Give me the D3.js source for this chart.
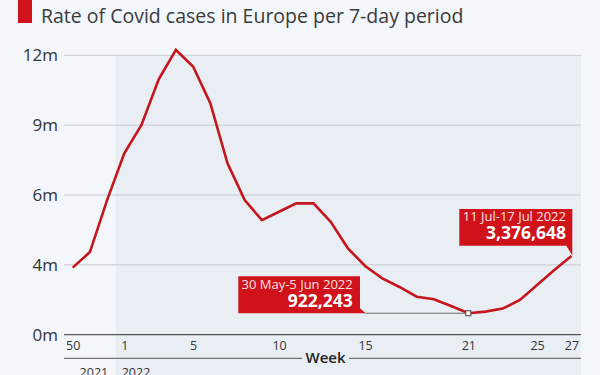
<!DOCTYPE html>
<html>
<head>
<meta charset="utf-8">
<script src="https://cdn.jsdelivr.net/npm/d3@7"></script>
<style>
  html, body { margin: 0; padding: 0; background: #f3f6fa; }
  svg { display: block; font-family: "Open Sans", "Noto Sans", sans-serif; }
</style>
</head>
<body>
<svg id="chart" width="600" height="375"></svg>
<script>
const title = "Rate of Covid cases in Europe per 7-day period";
const weeks = ["50","51","52","1","2","3","4","5","6","7","8","9","10","11","12","13","14","15","16","17","18","19","20","21","22","23","24","25","26","27"];
const cases = [2880000,3550000,5780000,7790000,9010000,10970000,12230000,11520000,9940000,7360000,5780000,4920000,5280000,5640000,5640000,4850000,3710000,2950000,2420000,2050000,1630000,1520000,1230000,922243,990000,1120000,1490000,2130000,2780000,3376648];
const tickWeeks = ["50","1","5","10","15","21","25","27"];
const yTicks = [0, 3e6, 6e6, 9e6, 12e6];
const yTickLabels = ["0m","4m","6m","9m","12m"];
const years = ["2021","2022"];
const annoWeeks = ["21","27"];
const annoDates = ["30 May-5 Jun 2022","11 Jul-17 Jul 2022"];
const annoValues = ["922,243","3,376,648"];

const svg = d3.select("#chart");
const red = "#d0121b";
const lineRed = "#c4161c";

const x = d3.scalePoint().domain(weeks).range([72.7, 571.5]);
const y = d3.scaleLinear().domain([0, 12e6]).range([334.7, 55.3]);
const gridLeft = 64, gridRight = 581;

// shaded 2022 band
const shadeX = (x("52") + x("1")) / 2;
svg.append("rect").attr("x", shadeX).attr("y", y(12e6)).attr("width", gridRight - shadeX).attr("height", 375 - y(12e6)).attr("fill", "#e9edf4");

// title
svg.append("rect").attr("x", 18).attr("y", 0).attr("width", 14).attr("height", 23).attr("fill", red);
svg.append("text").attr("x", 41).attr("y", 23).attr("font-size", 19.5).attr("fill", "#3a3a3a").text(title);

// grid + y labels
const yAxis = svg.append("g");
yTicks.forEach((t, i) => {
  if (t > 0) {
    yAxis.append("line").attr("x1", gridLeft).attr("x2", gridRight).attr("y1", y(t)).attr("y2", y(t)).attr("stroke", "#c6cad1").attr("stroke-width", 1);
  }
  yAxis.append("text").attr("x", 58).attr("y", y(t)).attr("dy", "0.35em").attr("text-anchor", "end").attr("font-size", 17).attr("fill", "#333").text(yTickLabels[i]);
});

// x axis line
svg.append("line").attr("x1", gridLeft).attr("x2", gridRight).attr("y1", y(0)).attr("y2", y(0)).attr("stroke", "#555").attr("stroke-width", 1.2);

// x tick labels
const xAxis = d3.axisBottom(x).tickValues(tickWeeks).tickSize(0).tickPadding(0);
const gx = svg.append("g").attr("transform", `translate(0,${y(0)})`).call(xAxis);
gx.select(".domain").remove();
gx.selectAll("text").attr("font-size", 12.5).attr("fill", "#333").attr("font-family", "Open Sans, sans-serif").attr("dy", null).attr("y", 15.5);

// Week label with lines
const weekY = 358.3;
svg.append("line").attr("x1", gridLeft).attr("x2", 302).attr("y1", weekY).attr("y2", weekY).attr("stroke", "#555").attr("stroke-width", 1);
svg.append("line").attr("x1", 349).attr("x2", gridRight).attr("y1", weekY).attr("y2", weekY).attr("stroke", "#555").attr("stroke-width", 1);
svg.append("text").attr("x", 325.5).attr("y", 362.5).attr("text-anchor", "middle").attr("font-size", 15).attr("font-weight", 600).attr("fill", "#222").text("Week");

// year labels
svg.append("text").attr("x", shadeX - 7.5).attr("y", 377).attr("text-anchor", "end").attr("font-size", 12.5).attr("fill", "#333").text(years[0]);
svg.append("text").attr("x", shadeX + 6).attr("y", 377).attr("text-anchor", "start").attr("font-size", 12.5).attr("fill", "#333").text(years[1]);

// line
const line = d3.line().x((d, i) => x(weeks[i])).y(d => y(d));
svg.append("path").datum(cases).attr("d", line).attr("fill", "none").attr("stroke", lineRed).attr("stroke-width", 2.6).attr("stroke-linejoin", "miter");

// annotation 1 (week 21)
{
  const px = x(annoWeeks[0]), py = y(cases[weeks.indexOf(annoWeeks[0])]);
  const bx0 = px - 230, bx1 = px - 108.3, by0 = py - 37, by1 = py;
  svg.append("line").attr("x1", bx1 + 5.5).attr("x2", px).attr("y1", py).attr("y2", py).attr("stroke", "#6b6b6b").attr("stroke-width", 1.2);
  svg.append("path").attr("d", `M${bx0},${by0}H${bx1}V${by1 - 5}L${bx1 + 5.7},${by1}H${bx0}Z`).attr("fill", red);
  svg.append("text").attr("x", bx1 - 7.3).attr("y", by0 + 12.3).attr("text-anchor", "end").attr("font-size", 13).attr("fill", "#fbe3e3").text(annoDates[0]);
  svg.append("text").attr("x", bx1 - 7.3).attr("y", by0 + 30.7).attr("text-anchor", "end").attr("font-size", 17.5).attr("font-weight", 700).attr("fill", "#fff").text(annoValues[0]);
  svg.append("rect").attr("x", px - 2.5).attr("y", py - 2.5).attr("width", 5).attr("height", 5).attr("fill", "#fff").attr("stroke", "#444").attr("stroke-width", 1);
}
// annotation 2 (week 27)
{
  const px = x(annoWeeks[1]), py = y(cases[weeks.indexOf(annoWeeks[1])]);
  const bx1 = px + 0.8, bx0 = bx1 - 113, by1 = py - 10.4, by0 = by1 - 36.7;
  svg.append("path").attr("d", `M${bx0},${by0}H${bx1}V${by1 + 9.8}L${bx1 - 6},${by1}H${bx0}Z`).attr("fill", red);
  svg.append("text").attr("x", bx1 - 6.3).attr("y", by0 + 12).attr("text-anchor", "end").attr("font-size", 13).attr("fill", "#fbe3e3").text(annoDates[1]);
  svg.append("text").attr("x", bx1 - 6.3).attr("y", by0 + 30).attr("text-anchor", "end").attr("font-size", 17.5).attr("font-weight", 700).attr("fill", "#fff").text(annoValues[1]);
}
</script>
</body>
</html>
